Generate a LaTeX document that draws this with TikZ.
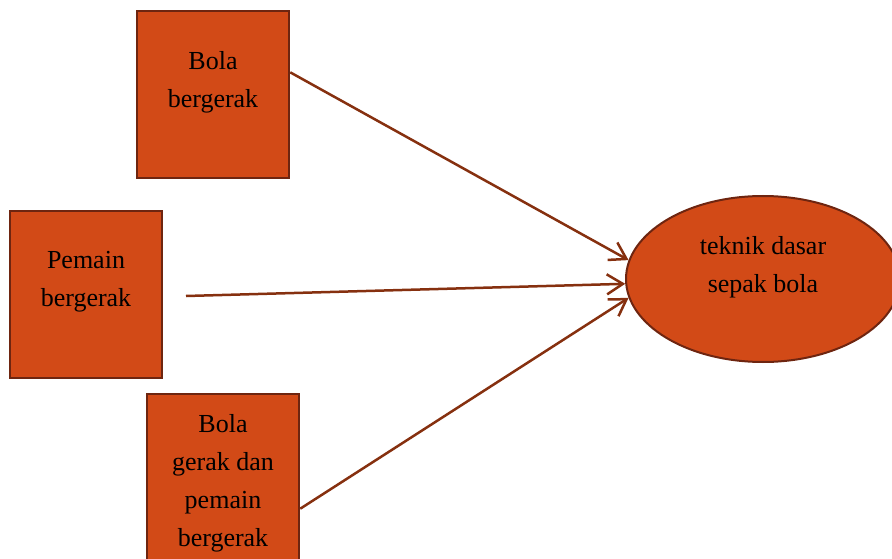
\documentclass[tikz,border=0pt]{standalone}
\usepackage{fontspec}
\setmainfont{Liberation Serif}
\usetikzlibrary{arrows.meta,shapes.geometric,positioning}
\definecolor{boxfill}{HTML}{D24A17}
\definecolor{boxline}{HTML}{6E2510}
\definecolor{arrowline}{HTML}{86300F}

\begin{document}
\begin{tikzpicture}[x=1pt,y=-1pt,>={Straight Barb[length=16pt,width=20pt]}]
    \tikzstyle{factor}=[draw=boxline,fill=boxfill,line width=2.5pt,minimum width=152pt,minimum height=167pt,inner sep=0pt]
    \tikzstyle{goal}=[ellipse,draw=boxline,fill=boxfill,line width=2pt,minimum width=274pt,minimum height=166pt,inner sep=0pt]
    \tikzstyle{words}=[align=center,font=\fontsize{26}{38}\selectfont,inner sep=0pt]

    \useasboundingbox (0,0) rectangle (892,559);

    \node[factor] (ball)   at (213,94.5)  {};
    \node[words]  (balltext) at (213,82)  {Bola\\bergerak};
    \node[factor] (player) at (86,294.5)  {};
    \node[words]  (playertext) at (86,282) {Pemain\\bergerak};
    \node[factor] (both)   at (223,477.5) {};
    \node[words]  (bothtext) at (223,483) {Bola\\gerak dan\\pemain\\bergerak};
    \node[goal]   (skill)  at (763,279)   {};
    \node[words]  (skilltext) at (763,267.5) {teknik dasar\\sepak bola};
    \coordinate (playerout) at (186,296);

    \path[->,color=arrowline,line width=2.5pt]
    (ball.16.5) edge (skill.172)
    (playerout) edge (skill.182)
    (both.-22) edge (skill.188);
\end{tikzpicture}
\end{document}
